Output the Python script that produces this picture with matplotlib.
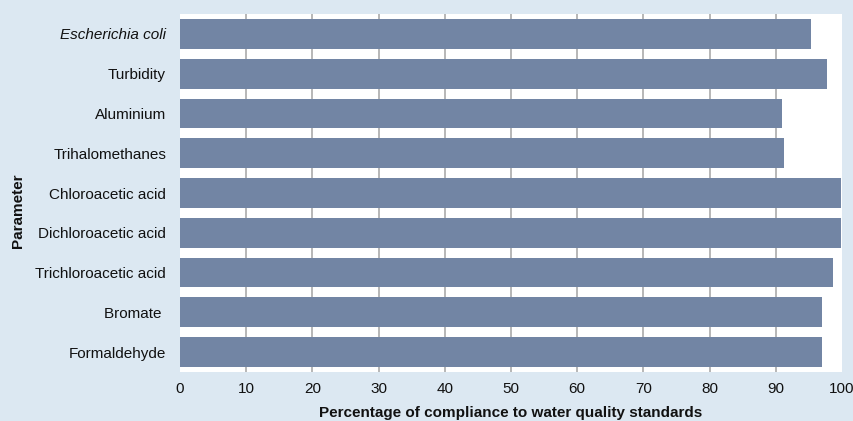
import matplotlib
matplotlib.use("Agg")
import matplotlib.pyplot as plt

# ── Data ──────────────────────────────────────────────────────────────
parameters = [
    "Escherichia coli", "Turbidity", "Aluminium", "Trihalomethanes",
    "Chloroacetic acid", "Dichloroacetic acid", "Trichloroacetic acid",
    "Bromate ", "Formaldehyde",
]
compliance = [95.3, 97.7, 91.0, 91.2, 99.9, 99.8, 98.6, 97.0, 97.0]
x_ticks = [0, 10, 20, 30, 40, 50, 60, 70, 80, 90, 100]

BG = "#dce8f2"
BAR = "#7285a4"
TXT = "#111111"

plt.rcParams["font.family"] = ["Liberation Sans", "DejaVu Sans"]

fig = plt.figure(figsize=(8.54, 4.21), dpi=100)
fig.patch.set_facecolor(BG)
ax = fig.add_axes([180 / 854, 1 - 372 / 421, 662 / 854, 358 / 421])
ax.set_facecolor("white")

ypos = list(range(len(parameters)))
ax.barh(ypos, compliance, height=0.75, color=BAR, zorder=2)

ax.set_ylim(len(parameters) - 0.5, -0.5)
ax.set_xlim(0, 100)
ax.set_xticks(x_ticks)
ax.set_yticks(ypos)
ax.set_yticklabels(parameters)
ax.get_yticklabels()[0].set_fontstyle("italic")

# vertical gridlines only between the end ticks
for t in x_ticks[1:-1]:
    ax.axvline(t, color="#aaaaaa", linewidth=1.2, zorder=1)

for s in ax.spines.values():
    s.set_visible(False)
ax.tick_params(axis="both", length=0, labelsize=11, colors=TXT)
ax.tick_params(axis="y", pad=10)
ax.tick_params(axis="x", pad=7)

fig.text(511 / 854, 1 / 421, "Percentage of compliance to water quality standards",
         fontsize=11, fontweight="bold", color=TXT, ha="center", va="bottom")
ax.set_ylabel("Parameter", fontsize=11, fontweight="bold", color=TXT)
ax.yaxis.set_label_coords(-155 / 662, 0.45)

fig.savefig("out.png", dpi=100, facecolor=BG)
